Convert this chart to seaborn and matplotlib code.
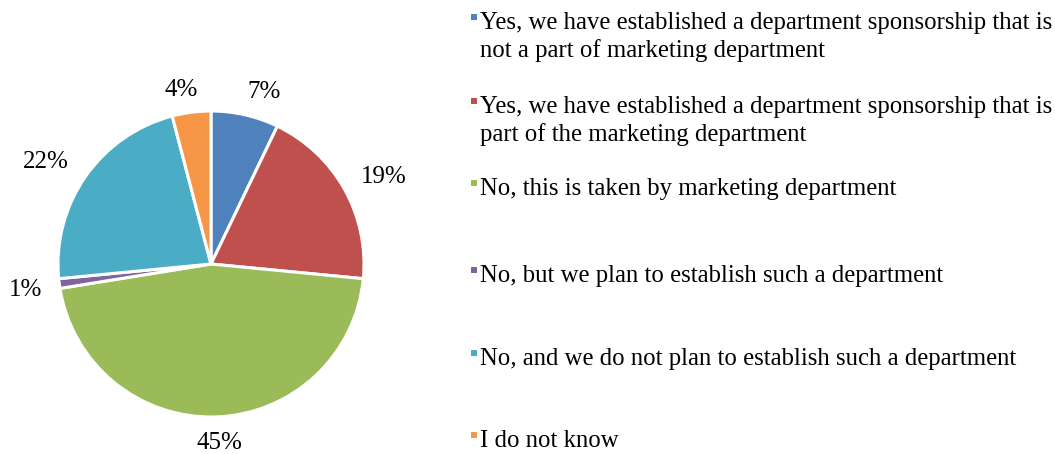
import numpy as np
import matplotlib
matplotlib.use("Agg")
import matplotlib.pyplot as plt
from matplotlib.patches import Rectangle
import seaborn as sns

categories = [
    "Yes, we have established a department sponsorship that is\nnot a part of marketing department",
    "Yes, we have established a department sponsorship that is\npart of the marketing department",
    "No, this is taken by marketing department",
    "No, but we plan to establish such a department",
    "No, and we do not plan to establish such a department",
    "I do not know",
]
values = [7, 19, 45, 1, 22, 4]
value_labels = ["7%", "19%", "45%", "1%", "22%", "4%"]
colors = ["#4F81BD", "#C0504D", "#9BBB59", "#8064A2", "#4BACC6", "#F79646"]
# label placement: radial distance (in radii) and angular nudge (deg, clockwise)
label_dist = [1.19, 1.27, 1.16, 1.22, 1.275, 1.167]
label_nudge = [4.0, 2.2, -0.9, 0.1, -2.7, -2.35]

sns.set_theme(style="white")
plt.rcParams["font.family"] = ["Liberation Serif", "DejaVu Serif"]

W, H, DPI = 1055, 454, 100
fig = plt.figure(figsize=(W / DPI, H / DPI), dpi=DPI)
fig.patch.set_facecolor("white")
ax = fig.add_axes([0, 0, 1, 1])

R_PX = 153.0
cx, cy = 211.0, 454 - 264.0

wedges, _ = ax.pie(values, colors=colors, startangle=90, counterclock=False,
                   wedgeprops=dict(edgecolor="white", linewidth=2.2),
                   radius=1.0, center=(0, 0))
ax.set_xlim(-cx / R_PX, (W - cx) / R_PX)
ax.set_ylim(-cy / R_PX, (H - cy) / R_PX)
ax.set_aspect("auto")
ax.axis("off")

fs_pie = 18
for w, lab, d, nd in zip(wedges, value_labels, label_dist, label_nudge):
    mid = np.deg2rad((w.theta1 + w.theta2) / 2 - nd)
    ax.text(d * np.cos(mid), d * np.sin(mid) - 8 / R_PX, lab, ha="center",
            va="baseline", fontsize=fs_pie, color="black")

# legend
fs = 17.8
baselines = [29, 113, 195, 282, 365, 447]
line_gap = 28
for lab, col, b in zip(categories, colors, baselines):
    for i, line in enumerate(lab.split("\n")):
        fig.text(480 / W, 1 - (b + i * line_gap) / H, line, ha="left",
                 va="baseline", fontsize=fs, color="black")
    fig.add_artist(Rectangle((471 / W, 1 - (b - 9) / H), 6 / W, 6 / H,
                             transform=fig.transFigure, facecolor=col,
                             edgecolor="none"))

fig.savefig("out.png", dpi=DPI)
